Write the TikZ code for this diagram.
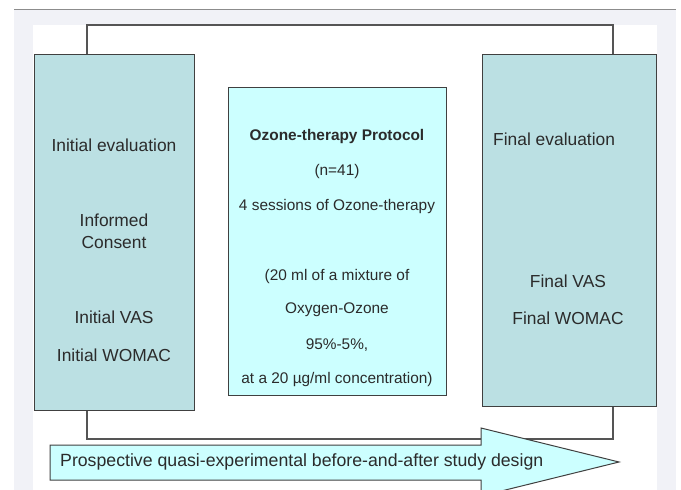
\documentclass[tikz,border=0pt]{standalone}
\usepackage{fontspec}
\setmainfont{Liberation Sans}
\definecolor{framegrey}{HTML}{F1F2F7}
\definecolor{frameline}{HTML}{8C8C8C}
\definecolor{tealbox}{HTML}{BBE0E3}
\definecolor{cyanbox}{HTML}{CCFFFF}
\definecolor{edge}{HTML}{404040}
\definecolor{txt}{HTML}{2B2B2B}
\definecolor{conn}{HTML}{555555}
\begin{document}
\begin{tikzpicture}[x=1pt,y=-1pt,
  box/.style={draw=edge,line width=1.4pt,inner sep=0pt,anchor=north west},
  big/.style={font=\fontsize{17.4}{21}\selectfont,text=txt,inner sep=0pt},
  small/.style={font=\fontsize{15.4}{18}\selectfont,text=txt,inner sep=0pt},
  connector/.style={draw=conn,line width=1.3pt}]
\useasboundingbox (0,0) rectangle (681,490);
\clip (0,0) rectangle (681,490);
% frame
\fill[framegrey] (14,9) rectangle (676,490);
\draw[frameline,line width=1pt] (14,9) -- (676,9);
\fill[white] (33,25) rectangle (657,490);
% boxes
\node[box,fill=tealbox,minimum width=160pt,minimum height=356pt] (lbox) at (34,54) {};
\node[box,fill=tealbox,minimum width=174pt,minimum height=352pt] (rbox) at (482,54) {};
\node[box,fill=cyanbox,minimum width=218pt,minimum height=308pt] (cbox) at (228,87) {};
% connectors
\coordinate (lt) at (87,25);
\coordinate (rt) at (613,25);
\coordinate (lb) at (87,439);
\coordinate (rb) at (613,439);
\draw[connector] (lbox.north -| lt) -- (lt) -- (rt) -- (rbox.north -| rt);
\draw[connector] (lbox.south -| lb) -- (lb) -- (rb) -- (rbox.south -| rb);
% left texts
\node[big] (l1) at (114,145) {Initial evaluation};
\node[big] (l2) at (114,220) {Informed};
\node[big] (l3) at (114,243) {Consent};
\node[big] (l4) at (114,317) {Initial VAS};
\node[big] (l5) at (114,355) {Initial WOMAC};
% center texts
\node[small,font=\fontsize{15.4}{18}\selectfont\bfseries] (c1) at (337,137) {Ozone-therapy Protocol};
\node[small] (c2) at (337,172) {(n=41)};
\node[small] (c3) at (337,207) {4 sessions of Ozone-therapy};
\node[small] (c4) at (337,277) {(20 ml of a mixture of};
\node[small] (c5) at (337,310) {Oxygen-Ozone};
\node[small] (c6) at (337,345) {95\%-5\%,};
\node[small] (c7) at (337,380) {at a 20 µg/ml concentration)};
% right texts
\node[big,anchor=west] (r1) at (493,139) {Final evaluation};
\node[big] (r2) at (568,281) {Final VAS};
\node[big] (r3) at (568,318) {Final WOMAC};
% arrow
\draw[fill=cyanbox,draw=edge,line width=1pt,line join=miter]
  (50,445) -- (481,445) -- (481,428) -- (619,462) -- (481,496) -- (481,480) -- (50,480) -- cycle;
\node[big,font=\fontsize{17.7}{21}\selectfont,anchor=west] (arr) at (60,462) {Prospective quasi-experimental before-and-after study design};
\end{tikzpicture}
\end{document}
